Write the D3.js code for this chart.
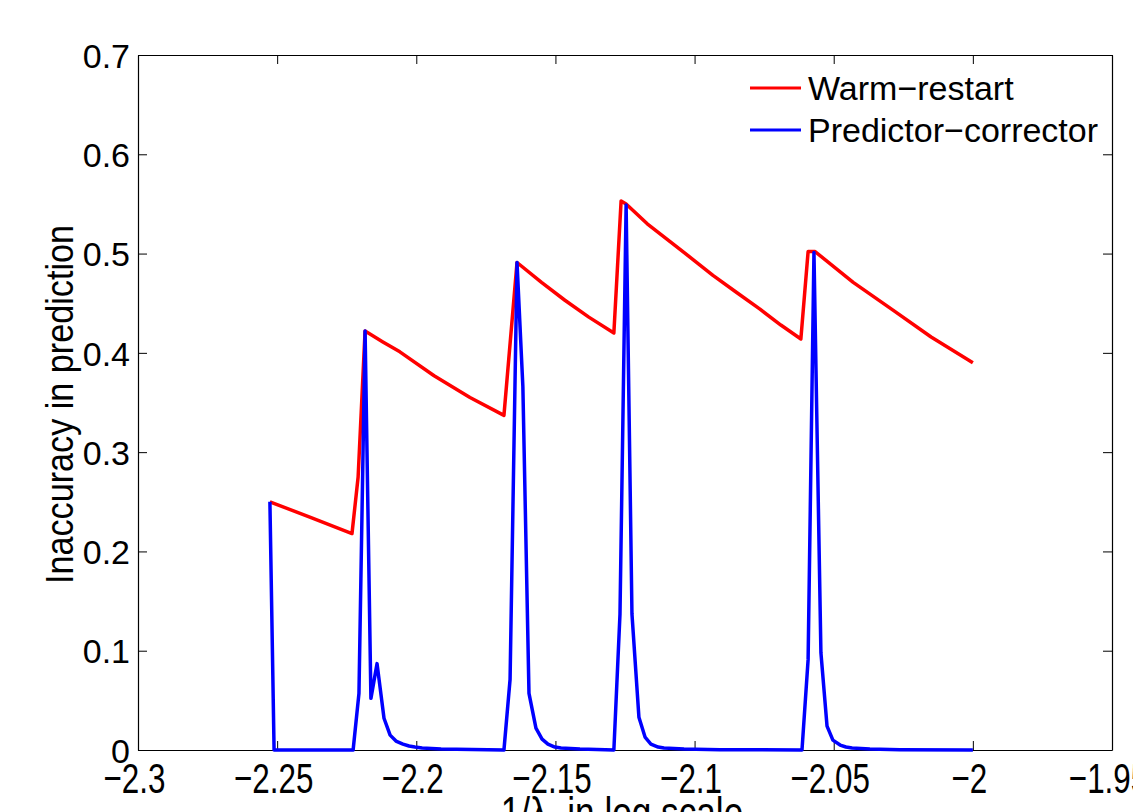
<!DOCTYPE html>
<html>
<head>
<meta charset="utf-8">
<script src="https://cdn.jsdelivr.net/npm/d3@7"></script>
<style>
  html, body { margin: 0; padding: 0; background: #fff; }
  svg { display: block; font-family: "Liberation Sans", Arial, Helvetica, sans-serif; }
</style>
</head>
<body>
<div class="chart"></div>
<script>
const width = 1133
const height = 812

// axis ticks
const xTicks = [-2.3, -2.25, -2.2, -2.15, -2.1, -2.05, -2, -1.95]
const xTickLabels = ['\u22122.3', '\u22122.25', '\u22122.2', '\u22122.15', '\u22122.1', '\u22122.05', '\u22122', '\u22121.95']
const yTicks = [0, 0.1, 0.2, 0.3, 0.4, 0.5, 0.6, 0.7]
const yTickLabels = ['0', '0.1', '0.2', '0.3', '0.4', '0.5', '0.6', '0.7']

const seriesNames = ['Warm\u2212restart', 'Predictor\u2212corrector']

// Warm-restart (red)
const warmX = [-2.2526, -2.2378, -2.2231, -2.2209, -2.2184, -2.2120, -2.2059, -2.1936, -2.1807, -2.1685,
  -2.1638, -2.1550, -2.1466, -2.1380, -2.1290, -2.1264, -2.1246, -2.1170, -2.1088, -2.1010, -2.0934,
  -2.0850, -2.0765, -2.0690, -2.0618,
  -2.0592, -2.0567, -2.0430, -2.0287, -2.0150, -2.0]
const warmY = [0.250, 0.234, 0.218, 0.275, 0.422, 0.411, 0.401, 0.377, 0.355, 0.337,
  0.491, 0.471, 0.453, 0.436, 0.420, 0.553, 0.550, 0.530, 0.512, 0.495, 0.478,
  0.461, 0.444, 0.428, 0.414,
  0.502, 0.502, 0.471, 0.443, 0.416, 0.390]

// Predictor-corrector (blue)
const pcX = [-2.2526, -2.2511, -2.2227, -2.2206, -2.2184, -2.2163, -2.2141, -2.2116, -2.2094,
  -2.2073, -2.2048, -2.2026, -2.2005, -2.1979, -2.1911, -2.1800, -2.1685,
  -2.1663, -2.1638, -2.1617, -2.1595, -2.1570, -2.1548, -2.1527, -2.1502, -2.1480, -2.1412, -2.1290,
  -2.1268, -2.1246, -2.1225, -2.1200, -2.1178, -2.1157, -2.1131, -2.1110, -2.1038, -2.0909, -2.0614,
  -2.0592, -2.0571, -2.0546, -2.0524, -2.0503, -2.0477, -2.0456, -2.0434, -2.0370, -2.0262, -2.0]
const pcY = [0.250, 0.0, 0.0, 0.057, 0.422, 0.052, 0.087, 0.032, 0.015,
  0.009, 0.006, 0.004, 0.003, 0.002, 0.001, 0.0005, 0.0,
  0.071, 0.491, 0.366, 0.057, 0.022, 0.011, 0.006, 0.003, 0.002, 0.001, 0.0,
  0.137, 0.549, 0.137, 0.033, 0.013, 0.006, 0.003, 0.002, 0.001, 0.0003, 0.0,
  0.091, 0.501, 0.098, 0.024, 0.010, 0.005, 0.003, 0.002, 0.001, 0.0003, 0.0]

const warm = warmX.map((x, i) => ({ x, y: warmY[i] }))
const pc = pcX.map((x, i) => ({ x, y: pcY[i] }))

const margin = { top: 55, right: 21, bottom: 62, left: 138 }

const svg = d3.select('.chart')
  .append('svg')
    .attr('width', width)
    .attr('height', height)

const xScale = d3.scaleLinear()
  .domain([-2.3, -1.95])
  .range([margin.left, width - margin.right])

const yScale = d3.scaleLinear()
  .domain([0, 0.7])
  .range([height - margin.bottom, margin.top])

const tick = 9

//axes, matlab style: ticks pointing inward on all four sides
const xAxis = svg.append('g')
  .attr('transform', `translate(0, ${yScale(0)})`)
  .call(d3.axisBottom(xScale)
    .tickValues(xTicks)
    .tickSize(-tick)
    .tickSizeOuter(0)
    .tickFormat((d, i) => xTickLabels[i]))

xAxis.selectAll('text')
  .attr('y', 12)
  .attr('dy', '0.71em')
  .attr('transform', 'translate(-4,0) scale(0.73,1)')
  .style('font-size', '43px')
  .style('fill', '#000')

const yAxis = svg.append('g')
  .attr('transform', `translate(${xScale(-2.3)}, 0)`)
  .call(d3.axisLeft(yScale)
    .tickValues(yTicks)
    .tickSize(-tick)
    .tickSizeOuter(0)
    .tickFormat((d, i) => yTickLabels[i]))

yAxis.selectAll('text')
  .attr('x', -8)
  .attr('dy', '0.36em')
  .style('font-size', '34px')
  .style('fill', '#000')

svg.append('g')
  .attr('transform', `translate(0, ${yScale(0.7)})`)
  .call(d3.axisTop(xScale).tickValues(xTicks).tickSize(-tick).tickSizeOuter(0).tickFormat(''))

svg.append('g')
  .attr('transform', `translate(${xScale(-1.95)}, 0)`)
  .call(d3.axisRight(yScale).tickValues(yTicks).tickSize(-tick).tickSizeOuter(0).tickFormat(''))

svg.selectAll('.domain').attr('stroke', '#000').attr('stroke-width', 1.2)
svg.selectAll('.tick line').attr('stroke', '#000').attr('stroke-width', 1)

//lines
const line = d3.line()
  .x(d => xScale(d.x))
  .y(d => yScale(d.y))

svg.append('path')
  .datum(warm)
  .attr('fill', 'none')
  .attr('stroke', '#ff0000')
  .attr('stroke-width', 3.5)
  .attr('stroke-linejoin', 'round')
  .attr('d', line)

svg.append('path')
  .datum(pc)
  .attr('fill', 'none')
  .attr('stroke', '#0000ff')
  .attr('stroke-width', 3.5)
  .attr('stroke-linejoin', 'round')
  .attr('d', line)

//axis labels
svg.append('text')
  .attr('transform', `translate(73, ${(yScale(0) + yScale(0.7)) / 2 + 2}) rotate(-90) scale(0.9,1)`)
  .style('text-anchor', 'middle')
  .style('font-size', '38px')
  .text('Inaccuracy in prediction')

svg.append('text')
  .attr('transform', `translate(${xScale(-2.125) - 3}, 828) scale(0.8,1)`)
  .style('text-anchor', 'middle')
  .style('font-size', '44px')
  .text('1/\u03bb, in log scale')

//legend
const colors = ['#ff0000', '#0000ff']
const legend = svg.selectAll('g.legend')
  .data(seriesNames)
  .enter()
  .append('g')
    .attr('class', 'legend')
    .attr('transform', (d, i) => `translate(750, ${88 + i * 42})`)

legend.append('line')
  .attr('x1', 0)
  .attr('x2', 51)
  .attr('stroke', (d, i) => colors[i])
  .attr('stroke-width', 3)

legend.append('text')
  .attr('x', 58)
  .attr('dy', '0.36em')
  .style('font-size', '34px')
  .text(d => d)
</script>
</body>
</html>
